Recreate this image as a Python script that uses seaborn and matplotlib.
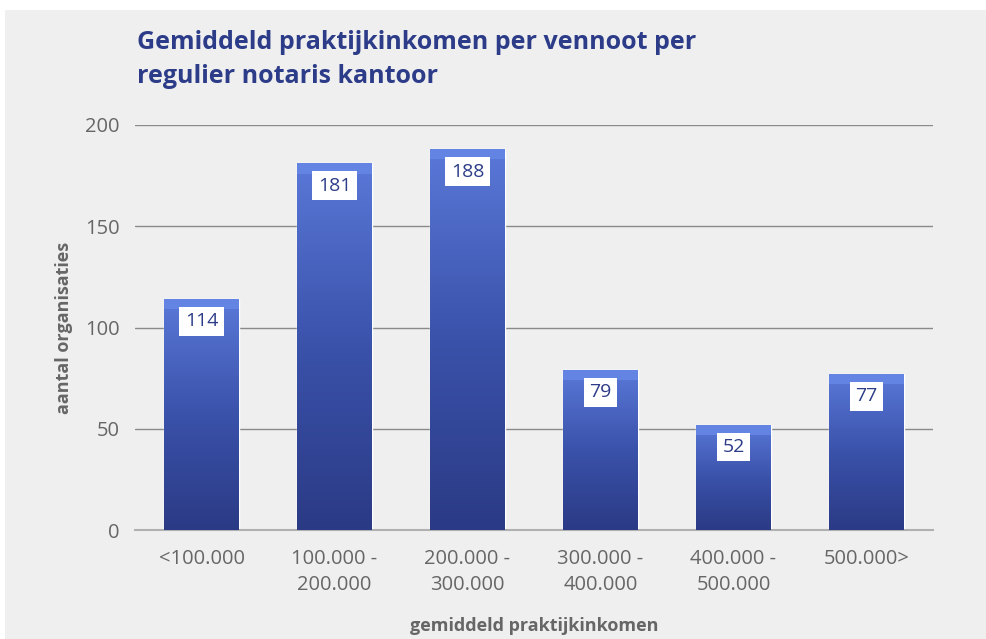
import matplotlib
matplotlib.use("Agg")
import matplotlib.pyplot as plt
from matplotlib.patches import Rectangle
from matplotlib.colors import LinearSegmentedColormap
import seaborn as sns
import numpy as np
import pandas as pd

categories = ["<100.000", "100.000 -\n200.000", "200.000 -\n300.000",
              "300.000 -\n400.000", "400.000 -\n500.000", "500.000>"]
counts = [114, 181, 188, 79, 52, 77]
title = "Gemiddeld praktijkinkomen per vennoot per\nregulier notaris kantoor"
xlabel = "gemiddeld praktijkinkomen"
ylabel = "aantal organisaties"

navy = "#2c3c88"
grey_text = "#666666"
bg = "#efefef"

sns.set_theme(style="white")
plt.rcParams["font.family"] = ["Open Sans", "DejaVu Sans"]

df = pd.DataFrame({"cat": categories, "n": counts})

fig = plt.figure(figsize=(9.86, 6.39), dpi=100)
fig.patch.set_facecolor("white")
fig.add_artist(Rectangle((5 / 986, 0), 1, 629 / 639, transform=fig.transFigure,
                         facecolor=bg, edgecolor="none", zorder=-10))

ax = fig.add_axes([135 / 986, 109 / 639, 798 / 986, 405 / 639])
ax.set_facecolor(bg)

sns.barplot(data=df, x="cat", y="n", ax=ax, width=0.56, color=navy,
            saturation=1, zorder=2)

# gradient fill for each bar
cmap = LinearSegmentedColormap.from_list("g", ["#2b3a85", "#3a52aa", "#5a78d8"])
grad = np.linspace(0, 1, 256).reshape(-1, 1)
for p in ax.patches:
    x0, y0 = p.get_x(), p.get_y()
    w, h = p.get_width(), p.get_height()
    im = ax.imshow(grad, extent=[x0, x0 + w, 0, h], origin="lower", cmap=cmap,
                   aspect="auto", zorder=3)
    im.set_clip_path(p)
    band = min(5, h * 0.1)
    ax.add_patch(Rectangle((x0, h - band), w, band, facecolor="#6484e4",
                           edgecolor="none", zorder=4))
    ax.text(x0 + w / 2, h - 11, f"{int(h)}", ha="center", va="center",
            fontsize=14, color=navy, zorder=5,
            bbox=dict(boxstyle="square,pad=0.28", facecolor="white",
                      edgecolor="none"))

ax.set_xlim(-0.5, len(categories) - 0.5)
ax.set_ylim(0, 200)
ax.set_yticks([0, 50, 100, 150, 200])
ax.yaxis.grid(True, color="#8a8a8a", linewidth=1)
ax.set_axisbelow(True)
for s in ["top", "right", "left"]:
    ax.spines[s].set_visible(False)
ax.spines["bottom"].set_color("#b0b0b0")
ax.spines["bottom"].set_linewidth(1.5)
ax.tick_params(axis="both", length=0, labelsize=14.5, labelcolor=grey_text)
for t in ax.get_xticklabels():
    t.set_linespacing(1.35)
ax.tick_params(axis="y", pad=11)
ax.tick_params(axis="x", pad=14)
ax.set_xlabel(xlabel, fontsize=13, fontweight="bold", color=grey_text, labelpad=16)
ax.set_ylabel(ylabel, fontsize=13, fontweight="bold", color=grey_text, labelpad=9)

fig.text(137 / 986, 1 - 30 / 639, title, ha="left", va="top", fontsize=18,
         fontweight="bold", color=navy, linespacing=1.45)

fig.savefig("out.png", dpi=100)
